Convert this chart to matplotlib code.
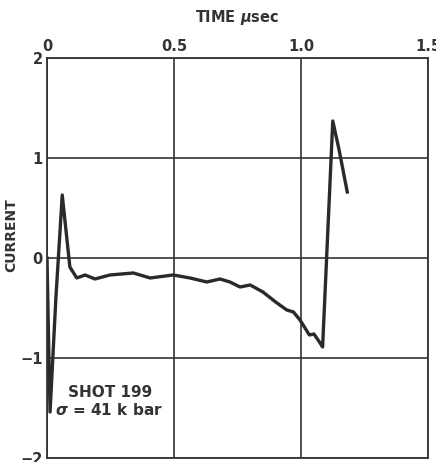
import matplotlib.pyplot as plt
import numpy as np

time_us = [0.0, 0.006, 0.012, 0.035, 0.060, 0.090, 0.117, 0.150, 0.189, 0.248,
           0.340, 0.406, 0.497, 0.563, 0.629, 0.681, 0.720, 0.760, 0.800,
           0.850, 0.900, 0.944, 0.970, 0.996, 1.033, 1.051, 1.075, 1.085,
           1.125, 1.150, 1.182]
current = [0.0, -0.8, -1.54, -0.40, 0.63, -0.09, -0.20, -0.17, -0.21, -0.17,
           -0.15, -0.20, -0.17, -0.20, -0.24, -0.21, -0.24, -0.29, -0.27,
           -0.34, -0.44, -0.52, -0.54, -0.62, -0.77, -0.76, -0.85, -0.89,
           1.37, 1.08, 0.66]

xticks = [0, 0.5, 1.0, 1.5]
xlabels = ['0', '0.5', '1.0', '1.5']
yticks = [-2, -1, 0, 1, 2]
ylabels = ['\u22122', '\u22121', '0', '1', '2']

plt.rcParams['font.family'] = ['DejaVu Sans']
plt.rcParams['font.weight'] = 'bold'

fig = plt.figure(figsize=(4.36, 4.62), dpi=100)
ax = fig.add_axes([0.1078, 0.0087, 0.8739, 0.8658])

ax.plot(time_us, current, color='#2a2a2a', lw=2.4, solid_joinstyle='round')

ax.set_xlim(0, 1.5)
ax.set_ylim(-2, 2)
ax.xaxis.tick_top()
ax.xaxis.set_label_position('top')
ax.set_xticks(xticks)
ax.set_xticklabels(xlabels)
ax.set_yticks(yticks)
ax.set_yticklabels(ylabels)
ax.tick_params(length=0, labelsize=10.5, pad=3, colors='#333333')
ax.grid(True, color='#333333', lw=1.2)
for s in ax.spines.values():
    s.set_color('#333333')
    s.set_linewidth(1.3)

ax.set_xlabel('TIME $\\mu$sec', fontsize=10.5, fontweight='bold',
              color='#333333', labelpad=12)
ax.set_ylabel('CURRENT', fontsize=10, fontweight='bold', color='#333333')
ax.yaxis.set_label_coords(-0.075, 0.557)

ax.text(0.25, -1.35, 'SHOT 199', fontsize=11, fontweight='bold',
        color='#333333', ha='center', va='center')
ax.text(0.245, -1.52, '$\\sigma$ = 41 k bar', fontsize=11, fontweight='bold',
        color='#333333', ha='center', va='center')

fig.savefig('out.png', dpi=100)
